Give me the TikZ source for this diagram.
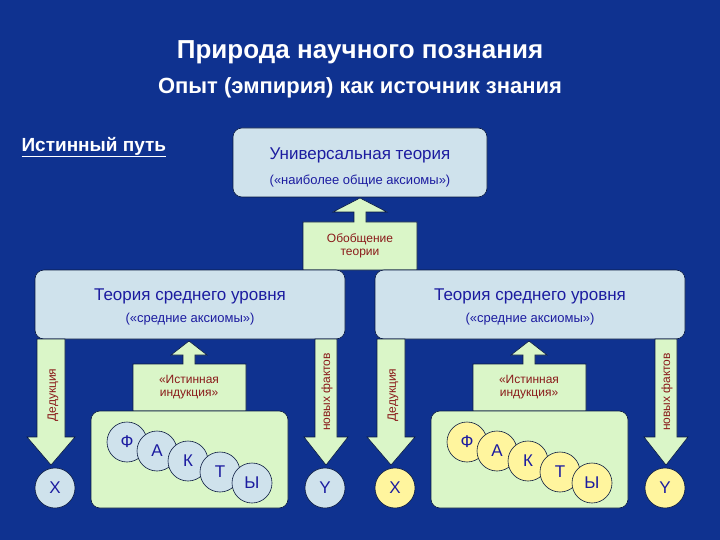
\documentclass[tikz,border=0pt]{standalone}
\usepackage{fontspec}
\setmainfont{Liberation Sans}
\definecolor{bg}{HTML}{0F3290}
\definecolor{boxb}{HTML}{CFE2EC}
\definecolor{grn}{HTML}{DAF6C8}
\definecolor{ylw}{HTML}{FFF59E}
\definecolor{txt}{HTML}{1C1CA0}
\definecolor{lab}{HTML}{8A1A1A}
\definecolor{edge}{HTML}{0A1A40}
\begin{document}
\begin{tikzpicture}[x=1pt,y=-1pt,
  rbox/.style={draw=edge,fill=boxb,rounded corners=9pt,line width=0.6pt},
  gbox/.style={draw=edge,fill=grn,rounded corners=9pt,line width=0.6pt},
  arr/.style={draw=edge,fill=grn,line width=0.6pt},
  circ/.style={circle,draw=edge,line width=0.6pt,minimum size=40pt,inner sep=0pt,text=txt,font=\fontsize{17}{17}\selectfont},
  lbl/.style={text=lab,font=\fontsize{12}{13}\selectfont,align=center}]
\fill[bg] (0,0) rectangle (720,540);
\useasboundingbox (0,0) rectangle (720,540);
\node[text=white,font=\bfseries\fontsize{26}{26}\selectfont] (t1) at (360,52) {Природа научного познания};
\node[text=white,font=\bfseries\fontsize{22}{22}\selectfont] (t2) at (360,88) {Опыт (эмпирия) как источник знания};
\node[text=white,font=\bfseries\fontsize{19}{19}\selectfont,anchor=west] (path) at (18,147) {\underline{Истинный путь}};
% universal
\draw[rbox] (233,128) rectangle (487,197);
\node[text=txt,font=\fontsize{17}{17}\selectfont] (u1) at (360,155) {Универсальная теория};
\node[text=txt,font=\fontsize{13}{13}\selectfont] (u2) at (360,181) {(«наиболее общие аксиомы»)};
% generalisation arrow
\draw[arr] (303,270) -- (303,222) -- (354,222) -- (354,212) -- (333,212) -- (360,198) -- (387,212) -- (366,212) -- (366,222) -- (417,222) -- (417,270) -- cycle;
\node[lbl] (gen) at (360,246) {Обобщение\\теории};
\foreach \s/\cf/\nm in {0/boxb/L,340/ylw/R}{
\begin{scope}[xshift=\s]
\draw[rbox] (35,270) rectangle (345,339);
\node[text=txt,font=\fontsize{17}{17}\selectfont] (mid\nm) at (190,296) {Теория среднего уровня};
\node[text=txt,font=\fontsize{13}{13}\selectfont] (ax\nm) at (190,319) {(«средние аксиомы»)};
% deduction arrow
\draw[arr] (37,339) -- (65,339) -- (65,437) -- (75,437) -- (51,465) -- (27,437) -- (37,437) -- cycle;
\node[lbl,rotate=90] (ded\nm) at (53,395) {Дедукция};
% new facts arrow
\draw[arr] (315,339) -- (337,339) -- (337,437) -- (348,437) -- (326,465) -- (304,437) -- (315,437) -- cycle;
\node[lbl,rotate=90] (new\nm) at (327,392) {новых фактов};
% induction arrow
\draw[arr] (133,411) -- (133,364) -- (183,364) -- (183,355) -- (171,355) -- (189,341) -- (207,355) -- (195,355) -- (195,364) -- (246,364) -- (246,411) -- cycle;
\node[lbl] (ind\nm) at (189,387) {«Истинная\\индукция»};
% facts box
\draw[gbox] (91,411) rectangle (288,508);
\node[circ,fill=\cf] (f1\nm) at (127,442) {Ф};
\node[circ,fill=\cf] (f2\nm) at (157,451) {А};
\node[circ,fill=\cf] (f3\nm) at (188,461) {К};
\node[circ,fill=\cf] (f4\nm) at (220,472) {Т};
\node[circ,fill=\cf] (f5\nm) at (252,483) {Ы};
\node[circ,fill=\cf] (x\nm) at (55,488) {X};
\node[circ,fill=\cf] (y\nm) at (325,488) {Y};
\end{scope}}
\end{tikzpicture}
\end{document}
